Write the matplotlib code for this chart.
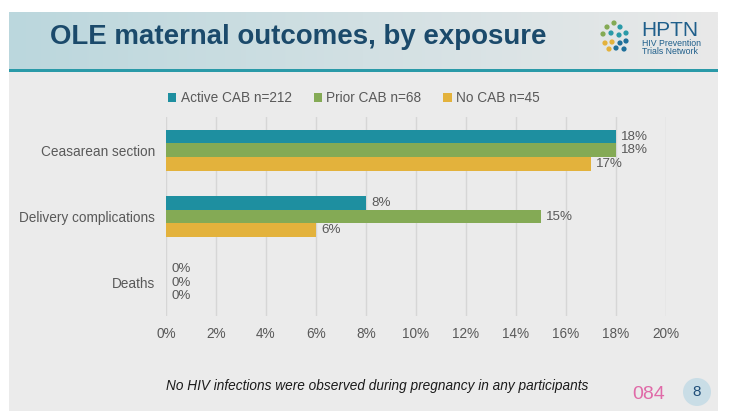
import matplotlib
matplotlib.use("Agg")
import matplotlib.pyplot as plt
import numpy as np
from matplotlib.patches import Patch, Rectangle, Circle

W, H = 741, 419

categories = ["Ceasarean section", "Delivery complications", "Deaths"]
series_names = ["Active CAB n=212", "Prior CAB n=68", "No CAB n=45"]
active_cab = [18, 8, 0]
prior_cab = [18, 15, 0]
no_cab = [17, 6, 0]
xticks = [0, 2, 4, 6, 8, 10, 12, 14, 16, 18, 20]
colors = ["#1e8fa0", "#84aa55", "#e3b23c"]

plt.rcParams['font.family'] = ['Liberation Sans', 'DejaVu Sans']

fig = plt.figure(figsize=(W / 100, H / 100), dpi=100)
fig.patch.set_facecolor("white")

def fx(px):
    return px / W

def fy(py):
    return 1 - py / H

# background slide
bg = fig.add_axes([0, 0, 1, 1], zorder=-10)
bg.axis("off")
bg.add_patch(Rectangle((9, 12), 709, 399, facecolor="#ebebeb", edgecolor="none"))
grad = np.linspace(0, 1, 256)
c0 = np.array([0xbb, 0xd7, 0xdd]) / 255
c1 = np.array([0xe9, 0xe9, 0xe9]) / 255
img = (c0[None, :] * (1 - grad[:, None]) + c1[None, :] * grad[:, None])[None, :, :]
bg.imshow(img, extent=(9, 718, 69, 12), aspect="auto", zorder=1)
bg.add_patch(Rectangle((9, 69), 709, 3, facecolor="#2a9aa8", edgecolor="none", zorder=2))
bg.set_xlim(0, W)
bg.set_ylim(H, 0)

# title
fig.text(fx(50), fy(37), "OLE maternal outcomes, by exposure", fontsize=19.9,
         fontweight="bold", color="#1b4a6b", ha="left", va="center")

# logo
dots = [(607, 27, "#84aa55"), (614, 23, "#84aa55"), (603, 34, "#84aa55"), (611, 33, "#2a9aa8"),
        (620, 27, "#2a9aa8"), (626, 33, "#2a9aa8"), (619, 35, "#2a9aa8"),
        (605, 43, "#e3b23c"), (612, 42, "#e3b23c"), (609, 49, "#e3b23c"),
        (620, 43, "#1f6f9a"), (626, 41, "#1f6f9a"), (624, 49, "#1f6f9a"), (616, 48, "#1f6f9a")]
for x, y, c in dots:
    bg.add_patch(Circle((x, y), 2.6, facecolor=c, edgecolor="none", zorder=3))
fig.text(fx(641), fy(30), "HPTN", fontsize=15, color="#1f5f8b", ha="left", va="center")
fig.text(fx(642), fy(44), "HIV Prevention", fontsize=6.3, color="#1f5f8b", ha="left", va="center")
fig.text(fx(642), fy(52), "Trials Network", fontsize=6.3, color="#1f5f8b", ha="left", va="center")

# main axes
left, right, top, bottom = 166, 666, 117, 316
ax = fig.add_axes([fx(left), fy(bottom), fx(right - left), (bottom - top) / H])
ax.set_facecolor("none")

n = len(categories)
y = np.arange(n)
bh = 0.205
series = [active_cab, prior_cab, no_cab]
for i, (vals, c, name) in enumerate(zip(series, colors, series_names)):
    pos = y + (i - 1) * bh
    bars = ax.barh(pos, vals, height=bh, color=c, label=name, zorder=3)
    for b, v in zip(bars, vals):
        ax.text(v + 0.2, b.get_y() + b.get_height() / 2, f"{v}%", va="center", ha="left",
                fontsize=9.6, color="#595959", zorder=4)

ax.set_xlim(0, 20)
ax.set_ylim(n - 0.5, -0.5)
ax.set_xticks(xticks)
ax.set_xticklabels([f"{t}%" for t in xticks], fontsize=9.8, color="#595959")
ax.set_yticks(y)
ax.set_yticklabels(categories, fontsize=9.8, color="#595959")
ax.tick_params(axis="both", length=0)
ax.tick_params(axis="x", pad=8)
ax.tick_params(axis="y", pad=8)
ax.grid(axis="x", color="#d6d6d6", linewidth=1, zorder=0)
for s in ax.spines.values():
    s.set_visible(False)

handles = [Patch(facecolor=c, edgecolor="none") for c in colors]
fig.legend(handles, series_names, loc="center", bbox_to_anchor=(fx(354), fy(98)), ncol=3,
           frameon=False, fontsize=9.8, labelcolor="#595959", handlelength=0.6,
           handleheight=0.6, handletextpad=0.35, columnspacing=1.6)

# footnote
fig.text(fx(377), fy(386), "No HIV infections were observed during pregnancy in any participants",
         fontsize=9.8, style="italic", color="#1a1a1a", ha="center", va="center")

# bottom-right items
fig.text(fx(649), fy(394), "084", fontsize=14, color="#e06aa8", ha="center", va="center")
bg.add_patch(Circle((697, 392), 14, facecolor="#c9dde6", edgecolor="none", zorder=3))
fig.text(fx(697), fy(392), "8", fontsize=11, color="#1f4e79", ha="center", va="center")

fig.savefig("out.png", dpi=100, facecolor=fig.get_facecolor())
